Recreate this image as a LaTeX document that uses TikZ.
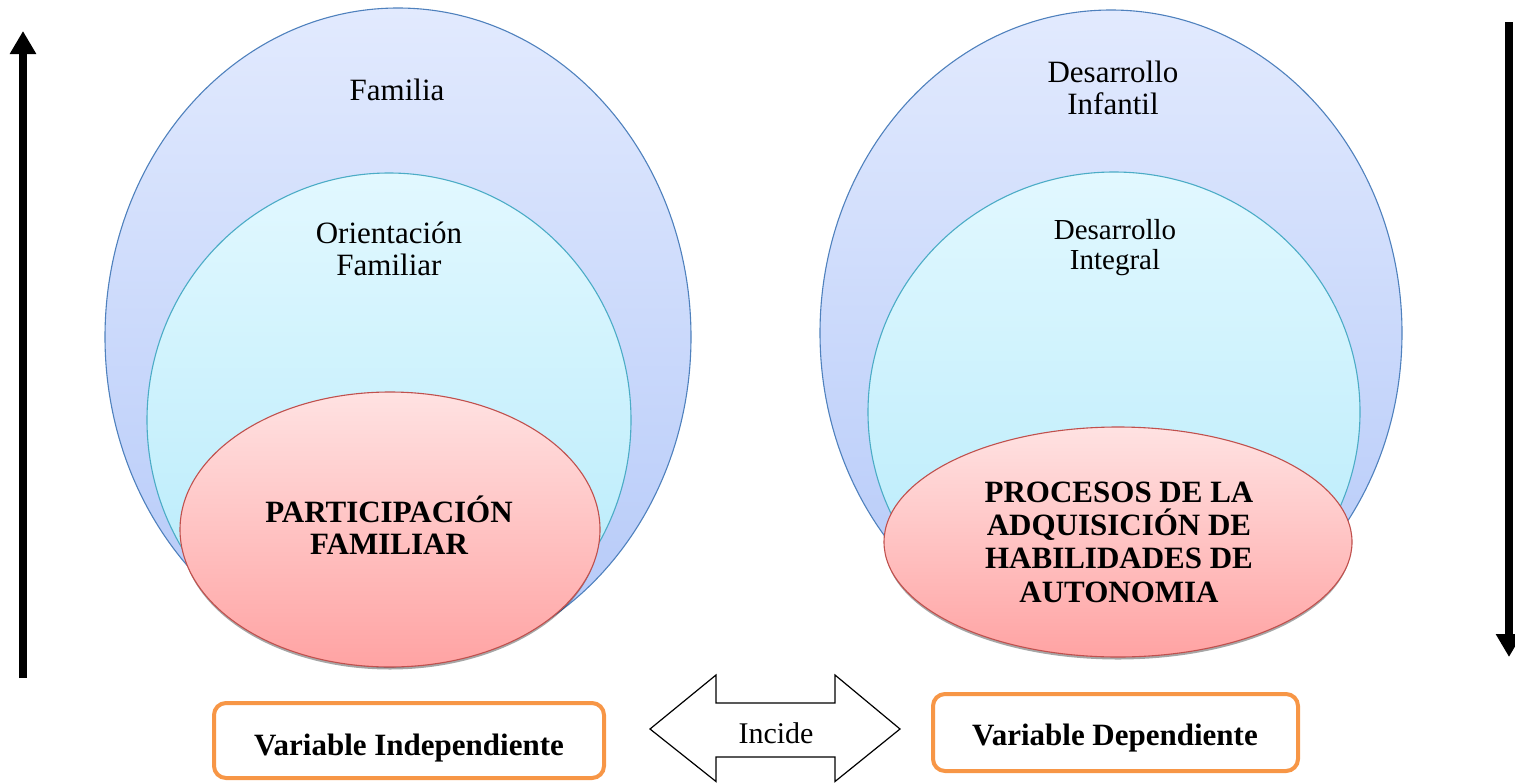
\documentclass[tikz,border=0pt]{standalone}
\usepackage{fontspec}
\setmainfont{Liberation Serif}
\usetikzlibrary{shapes.geometric,arrows.meta}
\definecolor{blueline}{HTML}{4F81BD}
\definecolor{bluetop}{HTML}{E2EAFE}
\definecolor{bluebot}{HTML}{B3C8F8}
\definecolor{cyanline}{HTML}{4BACC6}
\definecolor{cyantop}{HTML}{E2F8FF}
\definecolor{cyanbot}{HTML}{B3EAFA}
\definecolor{redline}{HTML}{C0504D}
\definecolor{redtop}{HTML}{FFE2E2}
\definecolor{redbot}{HTML}{FFA3A3}
\definecolor{boxline}{HTML}{F79646}
\begin{document}
\begin{tikzpicture}[x=1pt,y=-1pt,
  ell/.style={ellipse, inner sep=0pt, line width=1.1pt},
  outerell/.style={ell, draw=blueline, top color=bluetop, bottom color=bluebot},
  midell/.style={ell, draw=cyanline, top color=cyantop, bottom color=cyanbot},
  redell/.style={ell, draw=redline, top color=redtop, bottom color=redbot},
  shadowell/.style={ell, fill=black, opacity=0.35},
  lbl/.style={anchor=base, inner sep=0pt, font=\fontsize{31}{33}\selectfont},
  smalllbl/.style={anchor=base, inner sep=0pt, font=\fontsize{29}{31}\selectfont},
  boldlbl/.style={anchor=base, inner sep=0pt, font=\fontsize{31}{33}\selectfont\bfseries},
  varbox/.style={draw=boxline, line width=4pt, rounded corners=12pt, fill=white, inner sep=0pt},
  bigarrow/.style={line width=8pt, -{Triangle[length=23pt,width=25pt]}}
]
\useasboundingbox (0,0) rectangle (1515,782);

% ---------- left group ----------
\node[outerell, minimum width=586pt, minimum height=658pt] (lout) at (398,337) {};
\node[midell, minimum width=484pt, minimum height=494pt] (lmid) at (389,420) {};
\node[shadowell, minimum width=418pt, minimum height=273pt] (lshadow) at (390,533) {};
\node[redell, minimum width=420pt, minimum height=275pt] (lred) at (390,529.5) {};

\node[lbl] (familia) at (397,100) {Familia};
\node[lbl] (orient1) at (389,243) {Orientación};
\node[lbl] (orient2) at (389,275) {Familiar};
\node[boldlbl] (part1) at (389,522) {PARTICIPACIÓN};
\node[boldlbl] (part2) at (389,554) {FAMILIAR};

% ---------- right group ----------
\node[outerell, minimum width=582pt, minimum height=646pt] (rout) at (1111,333) {};
\node[midell, minimum width=492pt, minimum height=480pt] (rmid) at (1114,412) {};
\node[shadowell, minimum width=466pt, minimum height=228pt] (rshadow) at (1118,545.5) {};
\node[redell, minimum width=468pt, minimum height=230pt] (rred) at (1118,542) {};

\node[lbl] (desinf1) at (1113,82) {Desarrollo};
\node[lbl] (desinf2) at (1113,114) {Infantil};
\node[smalllbl] (desint1) at (1115,239) {Desarrollo};
\node[smalllbl] (desint2) at (1115,269) {Integral};
\node[boldlbl] (proc1) at (1119,502) {PROCESOS DE LA};
\node[boldlbl] (proc2) at (1119,535) {ADQUISICIÓN DE};
\node[boldlbl] (proc3) at (1119,568) {HABILIDADES DE};
\node[boldlbl] (proc4) at (1119,602) {AUTONOMIA};

% ---------- vertical arrows ----------
\coordinate (la1) at (23,678);
\coordinate (la2) at (23,31);
\draw[bigarrow] (la1) -- (la2);
\coordinate (ra1) at (1509,22);
\coordinate (ra2) at (1509,657);
\draw[bigarrow] (ra1) -- (ra2);

% ---------- bottom boxes ----------
\node[varbox, minimum width=390pt, minimum height=75pt] (vind) at (409,740.5) {};
\node[boldlbl] (vindtxt) at (409,755) {Variable Independiente};
\node[varbox, minimum width=365pt, minimum height=77pt] (vdep) at (1115.5,732.5) {};
\node[boldlbl] (vdeptxt) at (1115,745) {Variable Dependiente};

% ---------- double arrow ----------
\draw[line width=1.2pt, fill=white, line join=miter]
  (650,729) -- (716,675) -- (716,703) -- (835,703) -- (835,675) -- (900,729)
  -- (835,781.5) -- (835,757) -- (716,757) -- (716,781.5) -- cycle;
\node[anchor=base, inner sep=0pt, font=\fontsize{30}{32}\selectfont] (incide) at (776,743) {Incide};
\end{tikzpicture}
\end{document}
